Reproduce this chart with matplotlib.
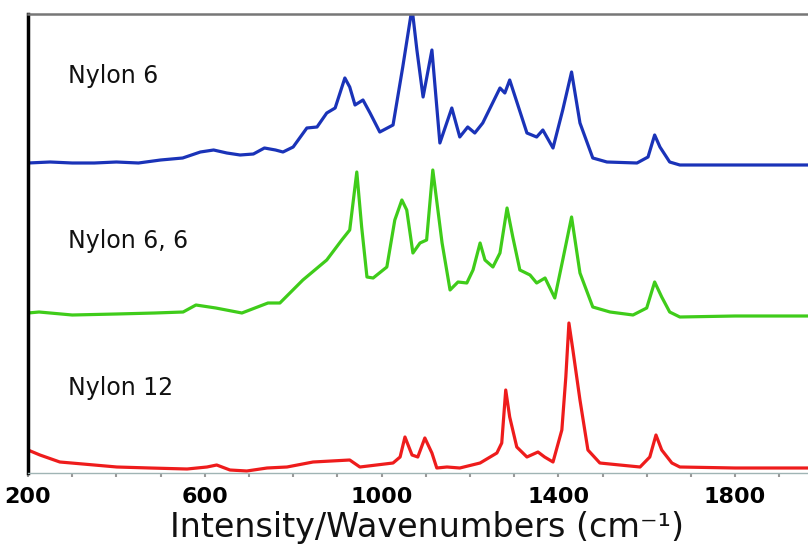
import numpy as np
import matplotlib
matplotlib.use('Agg')
import matplotlib.pyplot as plt
from matplotlib.ticker import MultipleLocator

# 라만 스펙트럼 (그림에서 읽은 값, 각 스펙트럼의 바닥선 기준)
wn_n6 = [200, 250, 300, 350, 400, 450, 500, 550, 590, 620, 650, 680, 710, 735, 760, 777,
         800, 831, 854, 876, 895, 917, 928, 940, 958, 974, 996, 1026, 1048, 1069, 1080,
         1094, 1114, 1132, 1159, 1177, 1195, 1211, 1229, 1268, 1279, 1290, 1329, 1351,
         1365, 1388, 1410, 1430, 1449, 1478, 1510, 1578, 1603, 1618, 1630, 1652, 1675,
         1800, 1965]
int_n6 = [0, 1, 0, 0, 1, 0, 3, 5, 11, 13, 10, 8, 9, 15, 13, 11,
          16, 35, 36, 50, 55, 85, 76, 58, 63, 50, 31, 38, 96, 155, 113,
          66, 113, 20, 55, 26, 36, 30, 40, 75, 70, 83, 30, 26,
          33, 15, 53, 91, 40, 5, 1, 0, 6, 28, 16, 1, -2,
          -2, -2]

wn_n66 = [200, 225, 300, 400, 487, 551, 580, 625, 684, 743, 770, 822, 876, 910, 928,
          944, 955, 967, 981, 1012, 1030, 1046, 1057, 1071, 1087, 1102, 1116, 1137,
          1155, 1173, 1193, 1207, 1223, 1234, 1252, 1268, 1284, 1297, 1313, 1336, 1351,
          1370, 1392, 1410, 1430, 1449, 1478, 1517, 1569, 1600, 1618, 1634, 1652, 1675,
          1800, 1965]
int_n66 = [0, 1, -2, -1, 0, 1, 8, 5, 0, 10, 10, 33, 53, 73, 83,
           141, 86, 36, 35, 46, 93, 113, 103, 60, 70, 73, 143, 70,
           23, 31, 30, 43, 70, 53, 46, 60, 105, 76, 43, 38, 30,
           35, 15, 53, 96, 40, 6, 1, -2, 5, 31, 16, 1, -4,
           -3, -3]

wn_n12 = [200, 227, 272, 324, 401, 476, 560, 605, 627, 657, 695, 741, 786, 845, 928,
          951, 1026, 1042, 1053, 1069, 1082, 1098, 1114, 1125, 1148, 1177, 1223, 1261,
          1272, 1281, 1290, 1306, 1329, 1354, 1369, 1388, 1408, 1417, 1424, 1433, 1449,
          1467, 1494, 1539, 1585, 1607, 1621, 1634, 1657, 1675, 1800, 1965]
int_n12 = [18, 13, 6, 4, 1, 0, -1, 1, 3, -2, -3, 0, 1, 6, 8,
           1, 5, 11, 31, 13, 11, 30, 15, 0, 1, 0, 5, 15,
           25, 78, 51, 21, 11, 16, 11, 6, 38, 91, 145, 118, 68,
           18, 5, 3, 1, 11, 33, 18, 5, 1, 0, 0]

names = ['Nylon 6', 'Nylon 6, 6', 'Nylon 12']
offsets = [310, 160, 5]
colors = ['#1a33b8', '#3fcc1a', '#ee1c1c']
label_y = [390, 225, 78]

fig = plt.figure(figsize=(8.08, 5.52), dpi=100)
ax = fig.add_axes([28/808, 79/552, 780/808, 459/552])

series = [(wn_n6, int_n6), (wn_n66, int_n66), (wn_n12, int_n12)]
for (wn, inten), off, c, name, ly in zip(series, offsets, colors, names, label_y):
    ax.plot(wn, np.array(inten) + off, color=c, lw=2.3, solid_joinstyle='round')
    ax.text(290, ly, name, fontsize=17, color='#111111', va='baseline')

ax.set_xlim(200, 1965)
ax.set_ylim(0, 459)

ax.xaxis.set_minor_locator(MultipleLocator(100))
ax.set_xticks([200, 600, 1000, 1400, 1800])
ax.tick_params(axis='x', which='both', length=3, width=1.5, color='#999999', pad=7)
ax.tick_params(axis='x', labelsize=16)
for lab in ax.get_xticklabels():
    lab.set_fontweight('bold')
ax.set_yticks([])

ax.spines['right'].set_visible(False)
ax.spines['left'].set_linewidth(2.5)
ax.spines['left'].set_color('black')
ax.spines['top'].set_linewidth(1.8)
ax.spines['top'].set_color('#777777')
ax.spines['bottom'].set_linewidth(1)
ax.spines['bottom'].set_color('#a0b4b4')

fig.text(427/808, 1 - 537/552, 'Intensity/Wavenumbers (cm⁻¹)', fontsize=24,
         ha='center', va='baseline', color='#111111')

fig.savefig('out.png', dpi=100)
